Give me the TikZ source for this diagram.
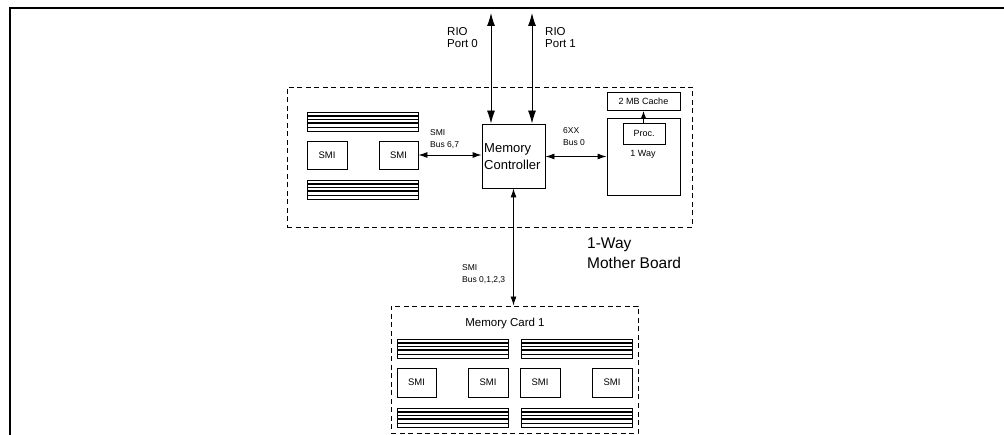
\documentclass[tikz,border=0pt]{standalone}
\usepackage{fontspec}
\setmainfont{Liberation Sans}
\usetikzlibrary{arrows.meta}
\tikzset{
  box/.style={draw, line width=0.9pt, inner sep=0pt},
  dbox/.style={draw, line width=0.9pt, dash pattern=on 5pt off 3.5pt, inner sep=0pt},
  lbl/.style={inner sep=0pt, anchor=base west},
  bigb/.style={{Latex[length=13pt,width=8pt]}-{Latex[length=13pt,width=8pt]}, line width=0.9pt},
  sm/.style={{Latex[length=9pt,width=6pt]}-{Latex[length=9pt,width=6pt]}, line width=0.9pt},
  smone/.style={-{Latex[length=7pt,width=5pt]}, line width=0.9pt},
  dimm/.pic={
    \draw[line width=0.8pt] (0,0) rectangle (111,19);
    \draw[line width=1.8pt] (0,4) -- (111,4);
    \draw[line width=0.8pt] (0,7.5) -- (111,7.5);
    \draw[line width=1.8pt] (0,11) -- (111,11);
    \draw[line width=0.8pt] (0,15) -- (111,15);
  }
}
\begin{document}
\begin{tikzpicture}[x=1pt,y=-1pt]
\useasboundingbox (0,0) rectangle (1004,435);
% frame
\draw[line width=1.4pt] (10,435) -- (10,8) -- (1004,8);

% mother board
\node[dbox, minimum width=405pt, minimum height=140pt] (mb) at (489.5,157) {};
\pic at (307,112) {dimm};
\pic at (307,180) {dimm};
\node[box, minimum width=40pt, minimum height=28pt, font=\fontsize{9.5}{11}\selectfont] (smiA) at (327,155) {SMI};
\node[box, minimum width=39pt, minimum height=28pt, font=\fontsize{9.5}{11}\selectfont] (smiB) at (398.5,155) {SMI};
\node[box, minimum width=63pt, minimum height=64pt] (mc) at (513.5,156) {};
\node[lbl, font=\fontsize{13}{15}\selectfont] (mcA) at (484,152.5) {Memory};
\node[lbl, font=\fontsize{13}{15}\selectfont] (mcB) at (484,170) {Controller};
\node[box, minimum width=73pt, minimum height=77pt] (way) at (643.5,156.5) {};
\node[box, minimum width=73pt, minimum height=18pt, font=\fontsize{9}{11}\selectfont] (cache) at (643.5,101.5) {2 MB Cache};
\node[box, minimum width=42pt, minimum height=21pt, font=\fontsize{9}{11}\selectfont] (proc) at (644,133.5) {Proc.};
\node[inner sep=0pt, anchor=base, font=\fontsize{9}{11}\selectfont] (wayl) at (643,157) {1 Way};

% labels
\node[lbl, font=\fontsize{11.5}{13}\selectfont] (rioA) at (447,36) {RIO};
\node[lbl, font=\fontsize{11.5}{13}\selectfont] (rioB) at (447,48) {Port 0};
\node[lbl, font=\fontsize{11.5}{13}\selectfont] (rioC) at (545,36) {RIO};
\node[lbl, font=\fontsize{11.5}{13}\selectfont] (rioD) at (545,48) {Port 1};
\node[lbl, font=\fontsize{8.5}{10}\selectfont] (sbA) at (430,136) {SMI};
\node[lbl, font=\fontsize{8.5}{10}\selectfont] (sbB) at (430,147.5) {Bus 6,7};
\node[lbl, font=\fontsize{8.5}{10}\selectfont] (xxA) at (563,134) {6XX};
\node[lbl, font=\fontsize{8.5}{10}\selectfont] (xxB) at (563,146) {Bus 0};
\node[lbl, font=\fontsize{8.5}{10}\selectfont] (svA) at (462,271) {SMI};
\node[lbl, font=\fontsize{8.5}{10}\selectfont] (svB) at (462,282.5) {Bus 0,1,2,3};
\node[lbl, font=\fontsize{15.5}{18}\selectfont] (owA) at (587,249) {1-Way};
\node[lbl, font=\fontsize{15.5}{18}\selectfont] (owB) at (587,269) {Mother Board};

% memory card
\node[dbox, minimum width=247pt, minimum height=127pt] (card) at (514.5,369.5) {};
\node[inner sep=0pt, anchor=base, font=\fontsize{11.5}{13}\selectfont] (cardl) at (505,327) {Memory Card 1};
\pic at (397,339) {dimm};
\pic at (521,339) {dimm};
\pic at (397,408) {dimm};
\pic at (521,408) {dimm};
\node[box, minimum width=39pt, minimum height=29pt, font=\fontsize{9.5}{11}\selectfont] (c1) at (416.5,382.5) {SMI};
\node[box, minimum width=40pt, minimum height=29pt, font=\fontsize{9.5}{11}\selectfont] (c2) at (488,382.5) {SMI};
\node[box, minimum width=40pt, minimum height=29pt, font=\fontsize{9.5}{11}\selectfont] (c3) at (540,382.5) {SMI};
\node[box, minimum width=40pt, minimum height=29pt, font=\fontsize{9.5}{11}\selectfont] (c4) at (612,382.5) {SMI};

% connectors
\coordinate (r0) at (491,13);
\coordinate (r1) at (532,13);
\draw[bigb] (r0) -- (r0 |- mc.north);
\draw[bigb] (r1) -- (r1 |- mc.north);
\draw[sm] (smiB.east) -- (mc.west |- smiB.east);
\draw[sm] (mc.east |- way.west) -- (way.west);
\draw[smone] (proc.north -| cache.south) -- (cache.south);
\draw[sm] (mc.south) -- (card.north -| mc.south);
\end{tikzpicture}
\end{document}
